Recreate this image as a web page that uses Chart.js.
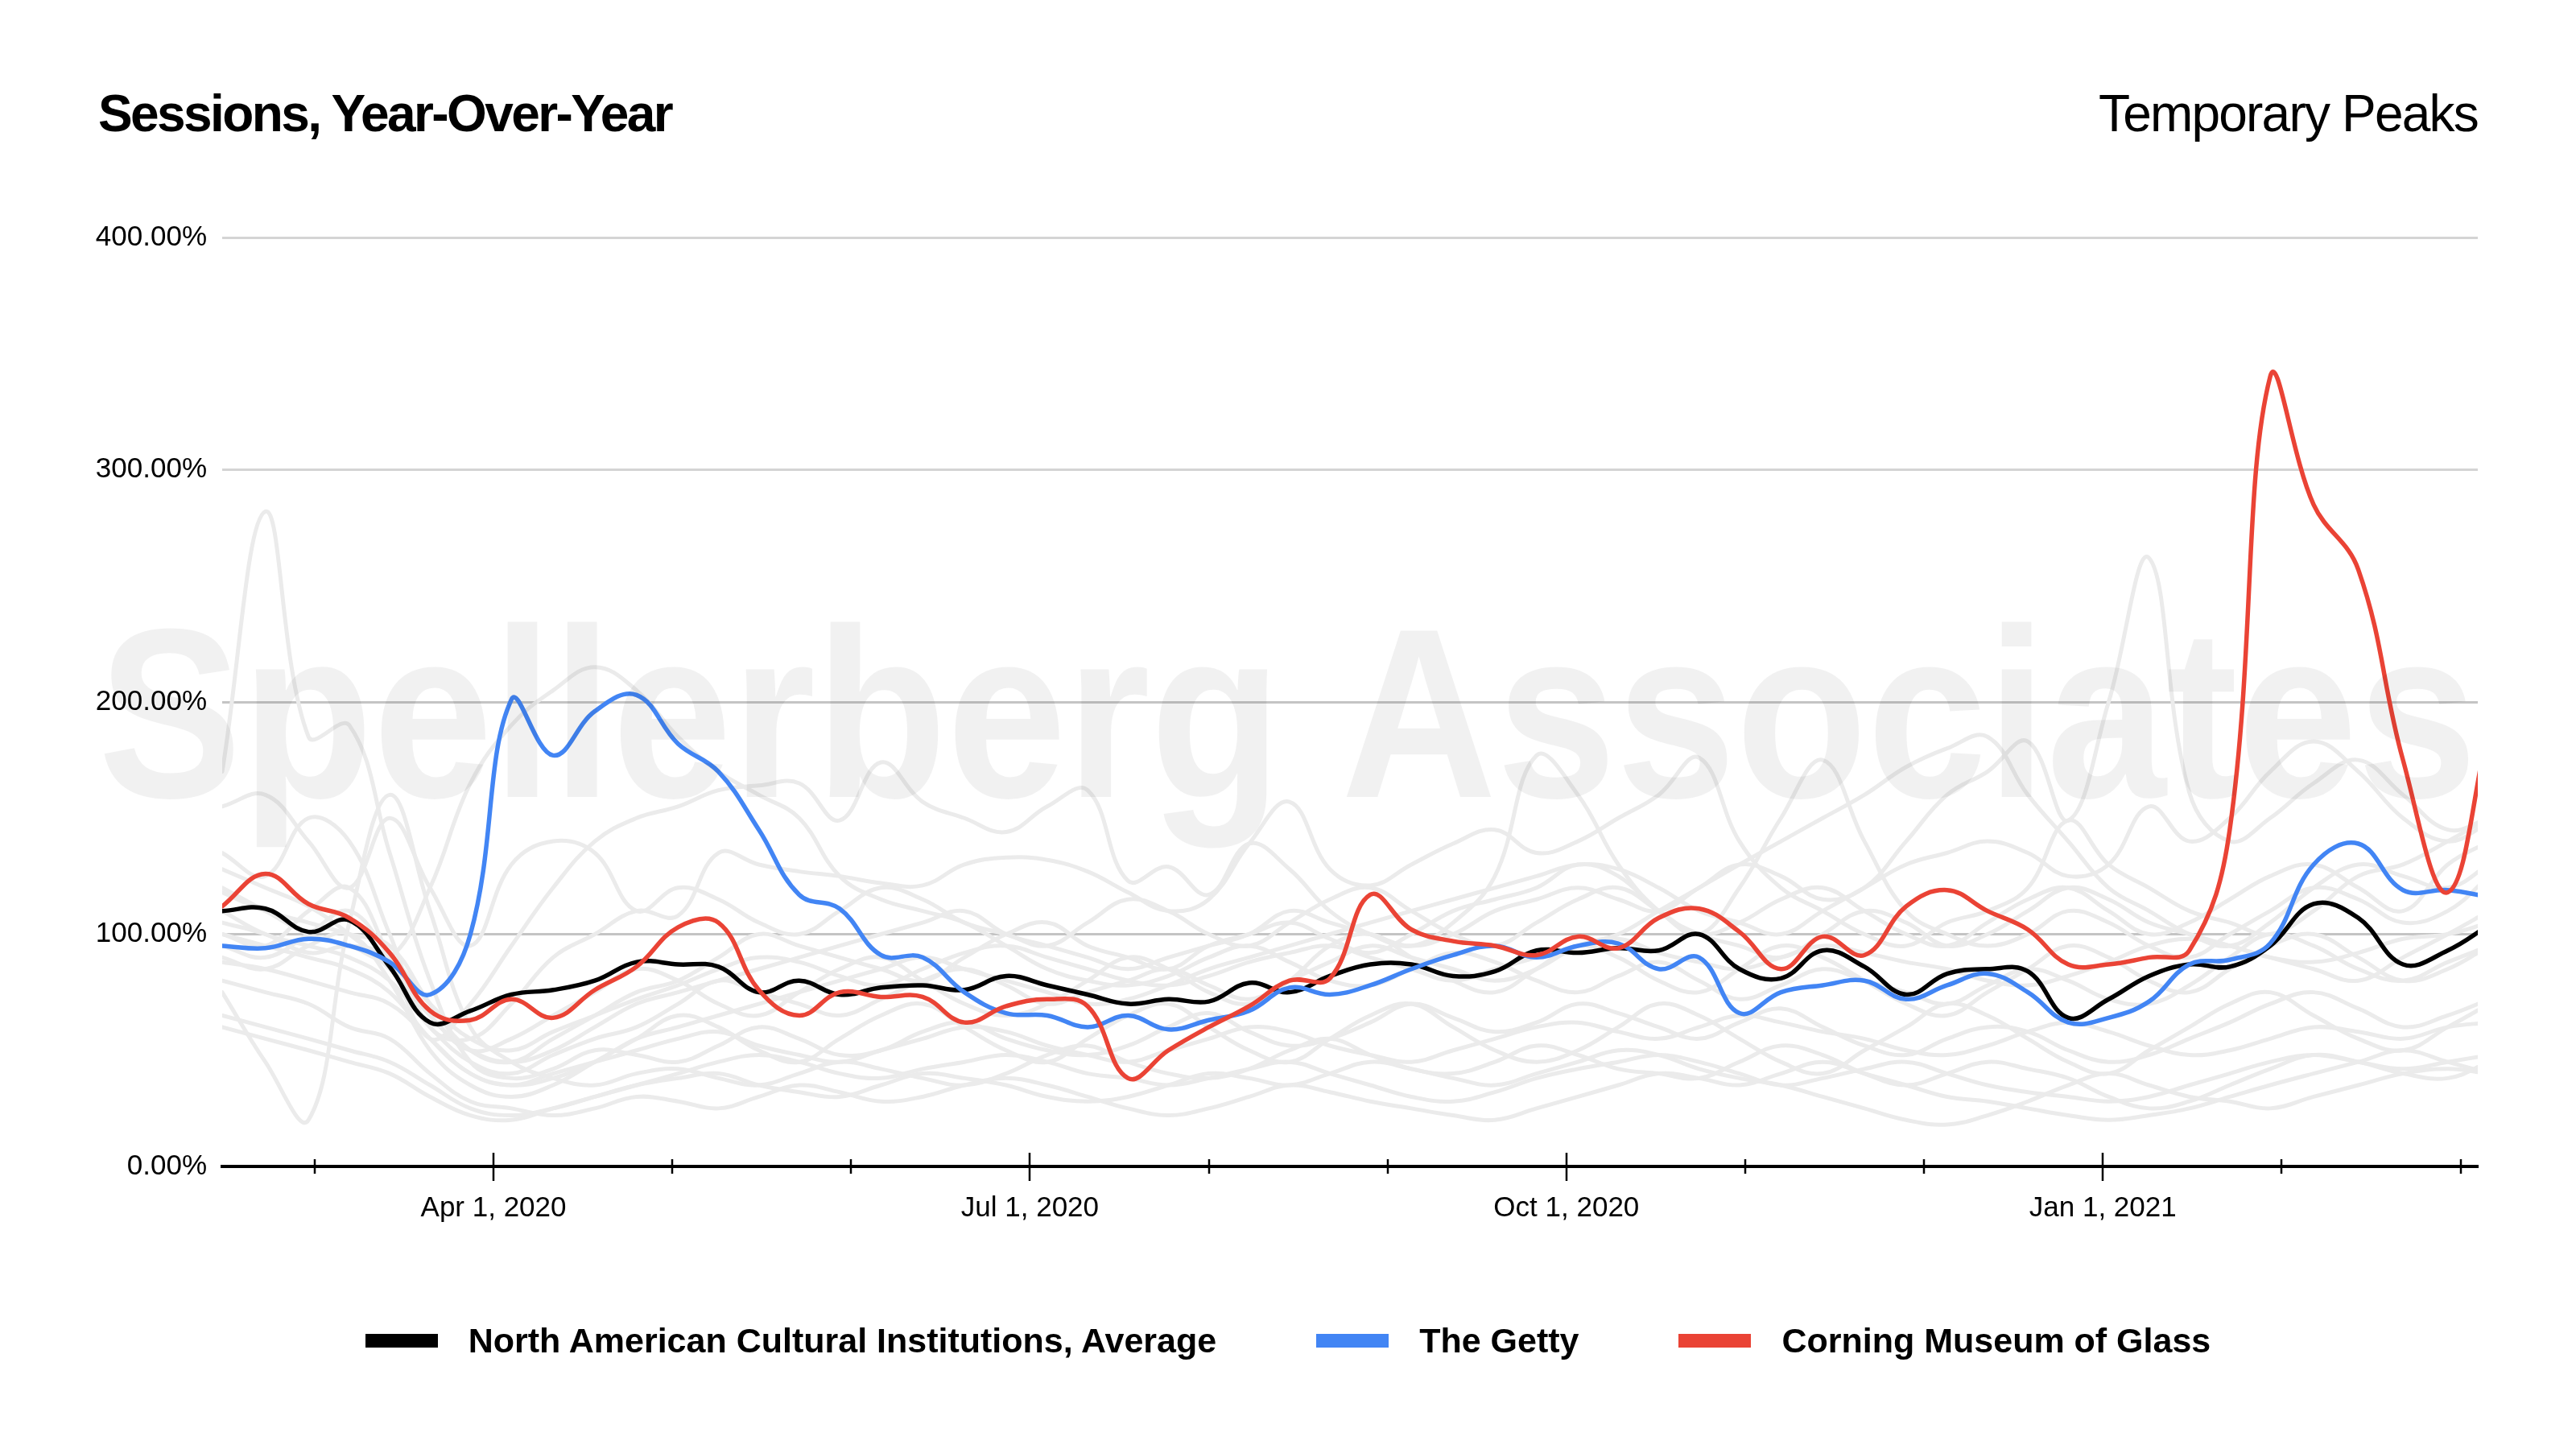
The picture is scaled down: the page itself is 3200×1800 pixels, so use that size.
<!DOCTYPE html>
<html>
<head>
<meta charset="utf-8">
<script src="https://cdn.jsdelivr.net/npm/chart.js@4.4.1/dist/chart.umd.min.js"></script>
<style>
  html, body { margin: 0; padding: 0; background: #fff; }
  #page { position: relative; width: 3200px; height: 1800px; overflow: hidden;
          font-family: "Liberation Sans", Arial, Helvetica, sans-serif; color: #000; }
  #chart { position: absolute; left: 0; top: 0; }
  .heading { position: absolute; top: 109px; font-size: 64px; line-height: 64px; white-space: nowrap; }
  #title { left: 122px; font-weight: bold; letter-spacing: -2.6px; }
  #subtitle { right: 122px; letter-spacing: -1.8px; }
  #legend { position: absolute; left: 0; top: 1640px; width: 3200px; height: 50px;
            display: flex; justify-content: center; align-items: center; }
  .item { display: flex; align-items: center; margin: 0 62px; }
  .swatch { width: 90px; height: 17px; margin-right: 38px; }
  .label { font-size: 43px; line-height: 50px; font-weight: bold; white-space: nowrap; }
</style>
</head>
<body>
<div id="page">
  <canvas id="chart" width="3200" height="1800"></canvas>
  <div id="title" class="heading">Sessions, Year-Over-Year</div>
  <div id="subtitle" class="heading">Temporary Peaks</div>
  <div id="legend"></div>
</div>
<script>
// weekly samples
const weekDates = [
  '2020-02-15','2020-02-22','2020-02-29','2020-03-07','2020-03-14','2020-03-21','2020-03-28',
  '2020-04-04','2020-04-11','2020-04-18','2020-04-25','2020-05-02','2020-05-09','2020-05-16',
  '2020-05-23','2020-05-30','2020-06-06','2020-06-13','2020-06-20','2020-06-27','2020-07-04',
  '2020-07-11','2020-07-18','2020-07-25','2020-08-01','2020-08-08','2020-08-15','2020-08-22',
  '2020-08-29','2020-09-05','2020-09-12','2020-09-19','2020-09-26','2020-10-03','2020-10-10',
  '2020-10-17','2020-10-24','2020-10-31','2020-11-07','2020-11-14','2020-11-21','2020-11-28',
  '2020-12-05','2020-12-12','2020-12-19','2020-12-26','2021-01-02','2021-01-09','2021-01-16',
  '2021-01-23','2021-01-30','2021-02-06','2021-02-13','2021-02-20','2021-02-27','2021-03-06'
];

const avgSessions = [110,111,101,106,86,62,67,74,76,80,88, 87,86,75,80,74,77,78,76,82,78,74,
  70,72,71,79,75,82,87,87,82,84,93, 92,94,93,100,85,81,93,86,74,83,85,
  84,64,72,82,87,86,95,113,107,87,93,104];
const gettySessions = [95,94,98,95,88,74,100,201,177,196,203, 182,170,145,117,111,91,90,75,66,65,60,
  65,59,63,67,77,74,78,85,91,95,90, 95,96,85,90,66,75,78,80,72,78,83,
  75,62,64,71,87,89,96,130,139,119,119,116];
const corningSessions = [112,126,113,107,92,67,63,72,64,76,86, 103,105,76,65,75,73,73,62,69,72,69,
  38,50,60,69,80,81,117,102,97,95,91, 99,94,107,111,101,85,99,91,112,119,110,
  102,87,87,90,93,145,340,285,257,175,118,190];

// other institutions (grey background lines)
const peer01 = [170,282,185,190,135,80,45,38,42,50,48, 45,52,60,55,48,50,58,62,55,50,48, 52,60,66,58,52,55,62,70,64,58,62, 70,66,60,55,62,68,60,52,48,55,60, 58,50,45,48,55,62,70,75,68,60,65,72];
const peer02 = [75,45,20,105,160,110,60,45,38,35,40, 42,38,35,40,45,42,38,35,40,48,52, 45,40,38,42,50,55,48,42,40,45,52, 48,42,40,38,45,52,48,40,35,40,45, 42,38,30,25,28,35,42,48,45,40,38,45];
const peer03 = [120,110,100,95,90,120,165,190,205,215,205, 185,170,160,150,125,115,110,105,95,85,80, 78,82,90,95,88,80,78,85,92,88,80, 75,82,88,80,72,78,85,80,75,70,78, 85,80,72,70,78,90,100,95,85,80,88,95];
const peer04 = [100,95,110,120,90,55,70,95,120,140,150, 155,162,164,165,149,174,157,150,144,155,162, 123,129,117,139,128,110,100,95,105,125,177, 160,130,110,100,95,90,100,110,105,95,100, 110,120,115,105,100,95,90,85,80,90,100,110];
const peer05 = [135,125,150,140,100,60,55,70,90,100,110, 108,135,130,127,125,122,121,130,133,132,127, 118,110,115,139,157,128,121,130,139,145,135, 140,150,160,176,140,120,110,100,95,105,110, 120,149,130,120,110,105,100,110,125,130,140,150];
const peer06 = [118,110,105,100,95,70,50,45,55,65,75, 80,90,100,95,90,85,80,90,100,105,95, 90,85,95,100,105,98,92,100,110,115,120, 130,125,110,100,120,150,175,140,110,100,95, 100,110,105,95,90,100,110,120,115,105,110,125];
const peer07 = [110,100,95,90,80,60,45,40,48,55,60, 70,80,75,70,65,72,80,85,78,70,75, 80,85,78,72,80,88,95,90,85,80,85, 95,100,110,120,130,140,150,160,172,180,185, 160,140,120,110,100,95,105,120,130,125,120,130];
const peer08 = [95,90,100,110,90,65,50,45,50,60,70, 75,80,85,90,95,100,105,110,100,95,90, 85,90,95,100,110,105,100,95,100,110,115, 120,115,110,120,130,125,115,120,140,160,170, 183,149,200,262,161,140,150,165,175,160,145,150];
const peer09 = [88,85,80,75,70,55,40,35,38,45,55, 60,65,70,75,80,85,90,85,80,75,70, 72,78,85,90,95,100,105,110,115,120,125, 130,128,120,110,105,100,110,120,130,135,140, 135,125,130,155,140,150,170,183,170,150,140,148];
const peer10 = [65,60,55,50,45,35,25,22,25,30,35, 38,40,35,32,30,35,40,38,35,30,28, 30,35,40,38,35,40,45,42,38,35,40, 45,50,48,42,38,35,30,25,20,18,22, 28,35,40,35,30,28,25,30,35,40,42,40];
const peer11 = [80,75,70,60,55,40,28,25,22,25,30, 28,25,30,35,32,28,30,35,38,35,30, 25,22,25,30,35,32,28,25,22,20,25, 30,35,40,38,35,40,45,40,35,30,28, 25,22,20,22,25,30,35,40,45,50,45,40];
const peer12 = [100,95,90,85,75,55,40,35,40,45,50, 55,58,52,48,45,50,55,60,58,52,48, 45,50,55,60,58,52,48,45,50,55,60, 62,58,55,60,65,62,58,55,50,48,52, 58,62,58,52,48,50,55,60,58,55,60,62];
const peer13 = [128,120,112,100,85,65,50,55,65,75,85, 80,70,65,75,85,90,80,70,65,70,80, 90,85,75,70,80,95,100,90,80,75,85, 95,90,80,75,85,95,90,80,70,65,75, 85,95,90,80,75,85,95,100,90,80,85,95];
const peer14 = [90,85,95,100,80,50,35,30,35,45,55, 65,60,50,45,55,65,70,60,50,45,55, 65,70,60,50,45,55,65,70,60,50,45, 50,60,70,65,55,45,40,50,60,70,65, 55,45,40,50,60,70,75,65,55,50,60,70];
const peer15 = [155,160,140,120,150,120,95,130,140,135,110, 120,115,105,100,110,120,115,105,100,95,105, 115,110,100,95,105,115,120,110,100,95,105, 115,120,110,100,105,115,120,110,100,95,105, 115,120,110,100,105,115,125,130,120,110,130,140];
const peer16 = [60,55,50,45,40,30,22,20,25,30,35, 40,45,48,45,40,38,42,45,48,45,40, 38,35,38,42,45,40,35,30,28,32,38, 42,45,48,45,40,35,38,42,45,40,35, 32,30,28,30,35,40,45,48,45,42,45,48];
const peer17 = [105,100,92,95,90,70,55,50,58,65,72, 78,85,90,88,82,78,85,92,95,90,85, 80,78,82,88,92,95,90,85,80,85,90, 95,98,92,88,85,90,95,92,88,85,80, 78,82,88,95,98,95,90,88,92,98,100,105];
const peerSeries = [peer01, peer02, peer03, peer04, peer05, peer06, peer07, peer08, peer09,
  peer10, peer11, peer12, peer13, peer14, peer15, peer16, peer17];

const seriesNames = ['North American Cultural Institutions, Average', 'The Getty', 'Corning Museum of Glass'];
const seriesColors = ['#000000', '#4285f4', '#ea4335'];

// x axis: months counted from Mar 1, 2020
const axisStart = '2020-02-15';
const axisEnd = '2021-03-04';
const monthTickValues = [0,1,2,3,4,5,6,7,8,9,10,11,12];
const quarterTickValues = [1,4,7,10];
const quarterTickLabels = ['Apr 1, 2020', 'Jul 1, 2020', 'Oct 1, 2020', 'Jan 1, 2021'];
const yTickValues = [0,100,200,300,400];

function monthPos(s) {
  const [y, m, d] = s.split('-').map(Number);
  const days = new Date(y, m, 0).getDate();
  return (y - 2020) * 12 + (m - 3) + (d - 1) / days;
}
const toPoints = vals => vals.map((v, i) => ({ x: monthPos(weekDates[i]), y: v }));

const mainSets = [avgSessions, gettySessions, corningSessions].map((vals, i) => ({
  label: seriesNames[i],
  data: toPoints(vals),
  borderColor: seriesColors[i],
  borderWidth: 5.5,
  order: 3 - i,
}));
const peerSets = peerSeries.map((vals, i) => ({
  label: 'peer' + (i + 1),
  data: toPoints(vals),
  borderColor: '#ebebeb',
  borderWidth: 5,
  order: 10,
}));

const watermark = {
  id: 'watermark',
  afterDatasetsDraw(chart) {
    const ctx = chart.ctx;
    const text = 'Spellerberg Associates';
    ctx.save();
    ctx.font = 'bold 300px "Liberation Sans", Arial, sans-serif';
    ctx.fillStyle = 'rgba(0,0,0,0.055)';
    ctx.textBaseline = 'alphabetic';
    const w = ctx.measureText(text).width;
    ctx.translate(122, 990);
    ctx.scale(2955 / w, 1);
    ctx.fillText(text, 0, 0);
    ctx.restore();
  }
};

const tickMarks = {
  id: 'tickMarks',
  afterDraw(chart) {
    const { ctx, scales: { x } } = chart;
    const y0 = x.top;
    ctx.save();
    ctx.strokeStyle = '#000';
    ctx.lineWidth = 2.5;
    monthTickValues.forEach(v => {
      const px = Math.round(x.getPixelForValue(v));
      const major = quarterTickValues.includes(v);
      ctx.beginPath();
      ctx.moveTo(px, y0 - (major ? 17 : 9));
      ctx.lineTo(px, y0 + (major ? 18 : 9));
      ctx.stroke();
    });
    ctx.restore();
  }
};

Chart.defaults.font.family = '"Liberation Sans", Arial, sans-serif';
Chart.defaults.color = '#000';

const chart = new Chart(document.getElementById('chart'), {
  type: 'line',
  data: { datasets: [...mainSets, ...peerSets] },
  options: {
    responsive: false,
    animation: false,
    devicePixelRatio: 1,
    events: [],
    layout: { padding: { top: 295, right: 122, bottom: 0, left: 0 } },
    elements: {
      point: { radius: 0 },
      line: { tension: 0.4, borderCapStyle: 'round', borderJoinStyle: 'round', fill: false },
    },
    plugins: { legend: { display: false }, tooltip: { enabled: false } },
    scales: {
      x: {
        type: 'linear',
        min: monthPos(axisStart),
        max: monthPos(axisEnd),
        afterFit: s => { s.height = 351; },
        afterBuildTicks: s => { s.ticks = monthTickValues.map(v => ({ value: v })); },
        grid: { display: false, drawTicks: false },
        border: { display: true, color: '#000', width: 4 },
        ticks: {
          autoSkip: false,
          maxRotation: 0,
          padding: 31,
          font: { size: 35 },
          callback: v => {
            const i = quarterTickValues.indexOf(v);
            return i >= 0 ? quarterTickLabels[i] : '';
          }
        }
      },
      y: {
        min: 0,
        max: 400,
        afterFit: s => { s.width = 276; },
        afterBuildTicks: s => { s.ticks = yTickValues.map(v => ({ value: v })); },
        grid: {
          drawTicks: false,
          lineWidth: 3,
          color: c => (c.tick && (c.tick.value === 100 || c.tick.value === 200)) ? '#c4c4c4' : '#d4d4d4'
        },
        border: { display: false },
        ticks: {
          padding: 19,
          font: { size: 35 },
          callback: v => v.toFixed(2) + '%'
        }
      }
    }
  },
  plugins: [watermark, tickMarks]
});

// legend built from the chart's own datasets
const legend = document.getElementById('legend');
mainSets.forEach(ds => {
  const item = document.createElement('div');
  item.className = 'item';
  const sw = document.createElement('div');
  sw.className = 'swatch';
  sw.style.background = ds.borderColor;
  const lb = document.createElement('div');
  lb.className = 'label';
  lb.textContent = ds.label;
  item.appendChild(sw);
  item.appendChild(lb);
  legend.appendChild(item);
});
</script>
</body>
</html>
